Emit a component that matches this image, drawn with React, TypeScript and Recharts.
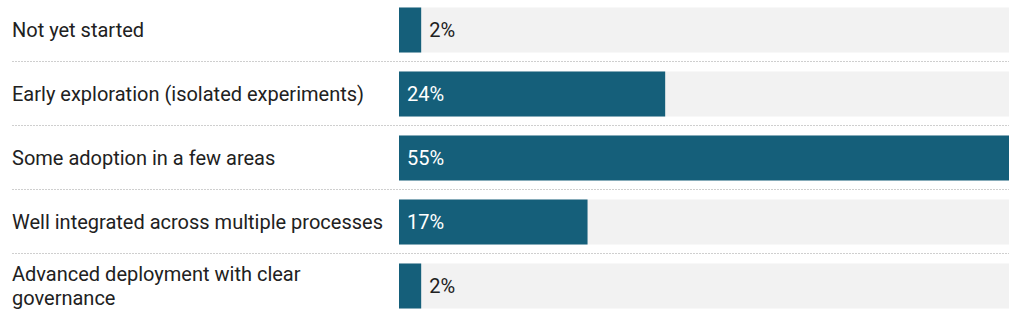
import React from "react";
import { BarChart, Bar, XAxis, YAxis, LabelList } from "recharts";

const categories = [
  "Not yet started",
  "Early exploration (isolated experiments)",
  "Some adoption in a few areas",
  "Well integrated across multiple processes",
  "Advanced deployment with clear governance",
];
const values = [2, 24, 55, 17, 2];
const maxValue = 55;

const data = categories.map((name, i) => ({ name, value: values[i] }));

const FONT = "Roboto, 'Noto Sans', sans-serif";
const FONT_SIZE = 20;
const TEXT_COLOR = "#212121";
const BAR_COLOR = "#155f7a";
const LABEL_MAX_WIDTH = 385;
const LINE_HEIGHT = 24;

let ctx: CanvasRenderingContext2D | null = null;
function measure(s: string): number {
  if (!ctx) {
    const c = document.createElement("canvas");
    ctx = c.getContext("2d");
  }
  if (!ctx) return s.length * FONT_SIZE * 0.5;
  ctx.font = `${FONT_SIZE}px Roboto`;
  return ctx.measureText(s).width;
}

function wrap(s: string): string[] {
  const words = s.split(" ");
  const lines: string[] = [];
  let cur = "";
  for (const w of words) {
    const t = cur ? cur + " " + w : w;
    if (cur && measure(t) > LABEL_MAX_WIDTH) {
      lines.push(cur);
      cur = w;
    } else {
      cur = t;
    }
  }
  if (cur) lines.push(cur);
  return lines;
}

const CategoryTick = (props: any) => {
  const { y, payload, index } = props;
  const lines = wrap(String(payload.value));
  const startY = y - ((lines.length - 1) * LINE_HEIGHT) / 2;
  return (
    <g>
      <text
        x={12}
        y={startY}
        textAnchor="start"
        fontSize={FONT_SIZE}
        fontFamily={FONT}
        fill={TEXT_COLOR}
      >
        {lines.map((l, i) => (
          <tspan key={i} x={12} y={startY + i * LINE_HEIGHT} dy="0.35em">
            {l}
          </tspan>
        ))}
      </text>
      {index < categories.length - 1 && (
        <line
          x1={12}
          x2={1009}
          y1={y + 32}
          y2={y + 32}
          stroke="#cfcfcf"
          strokeWidth={1}
          strokeDasharray="2 1"
        />
      )}
    </g>
  );
};

const ValueLabel = (props: any) => {
  const { x, y, width, height, value } = props;
  const inside = width > 60;
  return (
    <text
      x={inside ? x + 8 : x + width + 8}
      y={y + height / 2}
      dy="0.35em"
      fontSize={FONT_SIZE}
      fontFamily={FONT}
      fill={inside ? "#ffffff" : TEXT_COLOR}
    >
      {value}%
    </text>
  );
};

export default function App() {
  return (
    <div style={{ position: "absolute", left: 0, top: 0, background: "#fff" }}>
      <BarChart
        width={1024}
        height={325}
        data={data}
        layout="vertical"
        margin={{ top: -2.5, right: 15, bottom: 7.5, left: 0 }}
      >
        <XAxis type="number" domain={[0, maxValue]} hide />
        <YAxis
          type="category"
          dataKey="name"
          width={399}
          axisLine={false}
          tickLine={false}
          tick={<CategoryTick />}
          interval={0}
        />
        <Bar
          dataKey="value"
          fill={BAR_COLOR}
          barSize={45}
          background={{ fill: "#f2f2f2" }}
          isAnimationActive={false}
        >
          <LabelList dataKey="value" content={<ValueLabel />} />
        </Bar>
      </BarChart>
    </div>
  );
}
